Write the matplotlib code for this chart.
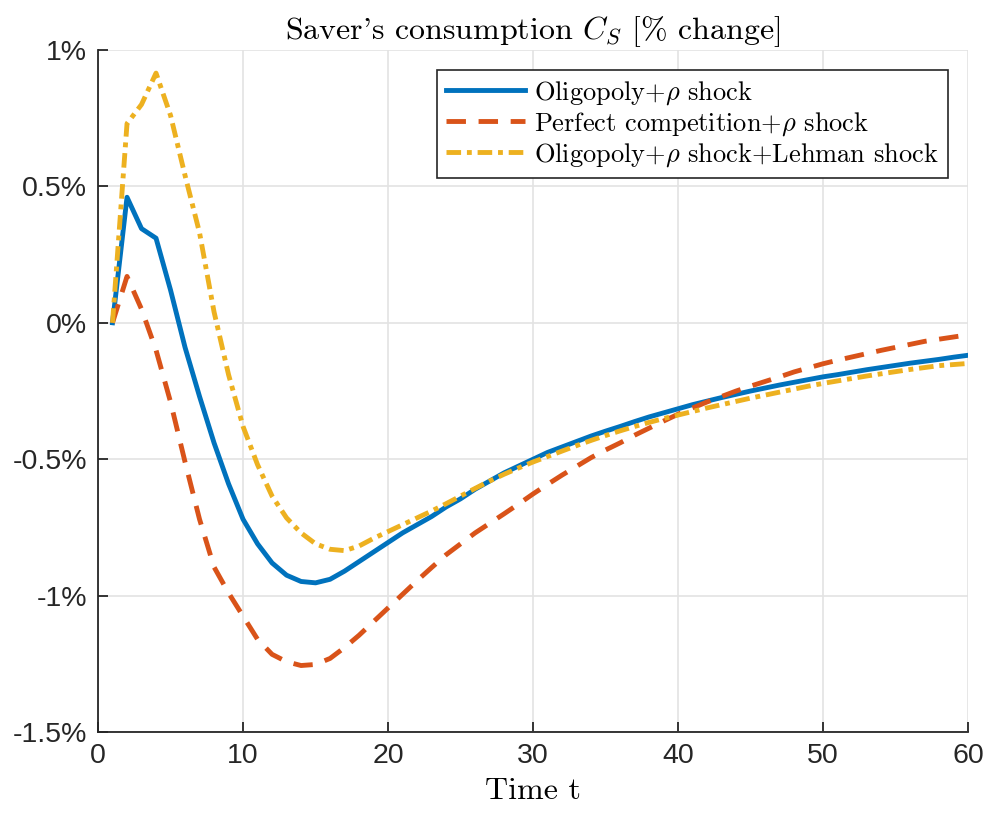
import numpy as np
import matplotlib
matplotlib.use('Agg')
import matplotlib.pyplot as plt

# Data (percent change)
t = list(range(1, 61))

oligopoly = [
    0.0, 0.46, 0.345, 0.31, 0.12, -0.09, -0.27, -0.44, -0.59, -0.72,
    -0.81, -0.88, -0.925, -0.948, -0.953, -0.94, -0.91, -0.875, -0.84, -0.805,
    -0.77, -0.74, -0.71, -0.675, -0.645, -0.61, -0.58, -0.55, -0.525, -0.50,
    -0.475, -0.455, -0.435, -0.415, -0.397, -0.38, -0.362, -0.345, -0.33, -0.315,
    -0.30, -0.287, -0.274, -0.262, -0.25, -0.239, -0.228, -0.218, -0.208, -0.198,
    -0.19, -0.181, -0.172, -0.164, -0.156, -0.148, -0.141, -0.134, -0.126, -0.119,
]

perfect = [
    0.0, 0.17, 0.05, -0.10, -0.29, -0.51, -0.72, -0.895, -0.99, -1.075,
    -1.16, -1.215, -1.242, -1.256, -1.252, -1.23, -1.19, -1.145, -1.095, -1.045,
    -0.995, -0.945, -0.897, -0.85, -0.81, -0.77, -0.735, -0.70, -0.664, -0.627,
    -0.592, -0.558, -0.526, -0.494, -0.466, -0.44, -0.412, -0.386, -0.36, -0.335,
    -0.312, -0.29, -0.27, -0.25, -0.232, -0.215, -0.198, -0.18, -0.165, -0.15,
    -0.137, -0.125, -0.113, -0.101, -0.09, -0.079, -0.068, -0.06, -0.052, -0.044,
]

lehman = [
    0.0, 0.73, 0.80, 0.915, 0.76, 0.54, 0.33, 0.04, -0.19, -0.38,
    -0.52, -0.635, -0.715, -0.77, -0.81, -0.83, -0.835, -0.818, -0.79, -0.765,
    -0.74, -0.715, -0.69, -0.663, -0.635, -0.607, -0.58, -0.555, -0.532, -0.51,
    -0.49, -0.47, -0.45, -0.431, -0.413, -0.396, -0.38, -0.365, -0.351, -0.338,
    -0.325, -0.312, -0.30, -0.288, -0.276, -0.265, -0.254, -0.243, -0.232, -0.222,
    -0.213, -0.204, -0.195, -0.187, -0.179, -0.171, -0.164, -0.157, -0.153, -0.149,
]

labels = [r'Oligopoly+$\rho$ shock',
          r'Perfect competition+$\rho$ shock',
          r'Oligopoly+$\rho$ shock+Lehman shock']

yticks = [1, 0.5, 0, -0.5, -1, -1.5]
ytick_labels = ['1%', '0.5%', '0%', '-0.5%', '-1%', '-1.5%']
xticks = [0, 10, 20, 30, 40, 50, 60]

plt.rcParams['mathtext.fontset'] = 'cm'
plt.rcParams['axes.unicode_minus'] = False

fig = plt.figure(figsize=(9.9, 8.18), dpi=100)
ax = fig.add_axes([0.099, 0.105, 0.879, 0.834])

ax.plot(t, oligopoly, color='#0072BD', lw=3.5, label=labels[0])
ax.plot(t, perfect, color='#D95319', lw=3.5, linestyle=(0, (4.0, 2.6)), label=labels[1])
ax.plot(t, lehman, color='#EDB120', lw=3.5, linestyle=(0, (3.0, 1.2, 1.0, 1.2)), label=labels[2])

ax.set_xlim(0, 60)
ax.set_ylim(-1.5, 1)
ax.set_xticks(xticks)
ax.set_yticks(yticks)
ax.set_yticklabels(ytick_labels)
for lab in ax.get_xticklabels() + ax.get_yticklabels():
    lab.set_fontfamily('Liberation Sans')
    lab.set_fontsize(20.5)
    lab.set_color('#262626')

ax.grid(True, color='#e3e3e3', lw=1.2)
ax.set_axisbelow(True)
ax.spines['top'].set_visible(False)
ax.spines['right'].set_visible(False)
for s in ['left', 'bottom']:
    ax.spines[s].set_color('#262626')
    ax.spines[s].set_linewidth(1.3)
ax.tick_params(direction='in', length=7, width=1.3, color='#262626', pad=8)

ax.set_title(r"Saver's consumption $C_S$ [% change]", family='cmr10', fontsize=23, pad=8)
ax.set_xlabel('Time t', family='cmr10', fontsize=23, labelpad=6)

leg = ax.legend(loc='upper right', prop={'family': 'cmr10', 'size': 19},
                fancybox=False, framealpha=1, edgecolor='#262626',
                handlelength=3.0, handletextpad=0.35, labelspacing=0.12,
                borderpad=0.35, borderaxespad=0.75)
leg.get_frame().set_linewidth(1.2)

plt.savefig('out.png', dpi=100)
